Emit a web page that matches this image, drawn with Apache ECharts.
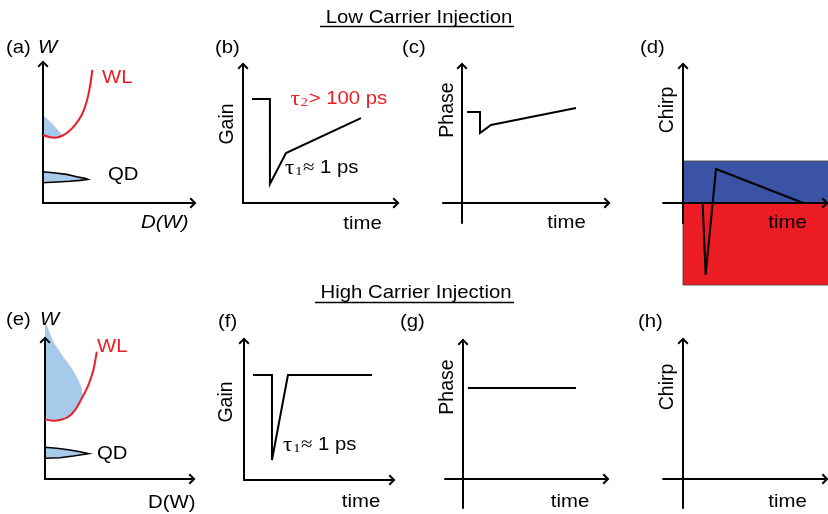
<!DOCTYPE html>
<html>
<head>
<meta charset="utf-8">
<script src="https://cdn.jsdelivr.net/npm/echarts@6/dist/echarts.min.js"></script>
<style>
  html, body { margin: 0; padding: 0; background: #ffffff; }
  #chart { width: 828px; height: 514px; }
</style>
</head>
<body>
<div id="chart"></div>
<script>
// ---- Curves, in each panel's own axis units ([x, y] pairs) ----

// (a) low injection: wetting-layer density of states and occupied states
const wlLow = [[0, 4.89], [0.47, 4.73], [0.8, 4.7], [1.25, 4.82], [1.69, 5.13], [2.13, 5.61],
               [2.58, 6.33], [2.91, 7.29], [3.13, 8.37], [3.29, 9.57]];
const wlFillLow = [[0, 6.33], [0.6, 5.72], [1.25, 4.95], [1.25, 4.82], [0.8, 4.7], [0.47, 4.73], [0, 4.89]];
const qdLow = [[0, 2.25], [0.69, 2.18], [1.58, 2.06], [2.25, 1.89], [2.8, 1.77], [2.98, 1.7],
               [2.47, 1.63], [1.8, 1.56], [0.91, 1.51], [0, 1.46]];

// (e) high injection
const wlHigh = [[0, 4.29], [0.56, 4.19], [1.02, 4.24], [1.59, 4.48], [2.04, 4.96], [2.5, 5.8],
                [2.95, 6.76], [3.29, 7.84], [3.52, 9.16]];
const wlFillHigh = [[0, 11.1], [0.12, 11.08], [0.56, 9.88], [1.24, 8.8], [1.82, 7.96], [2.27, 7.12],
                    [2.5, 6.52], [2.56, 6.04], [2.5, 5.8], [2.04, 4.96], [1.59, 4.48], [1.02, 4.24],
                    [0.56, 4.19], [0, 4.29]];
const qdHigh = [[0, 2.28], [0.8, 2.21], [1.7, 2.09], [2.38, 1.96], [2.97, 1.82],
                [1.93, 1.65], [1.02, 1.53], [0, 1.49]];

// (b), (f) gain vs time
const gainLow = [[0.59, 7.59], [1.76, 7.59], [1.76, 1.39], [2.81, 3.65], [7.71, 6.2]];
const gainHigh = [[0.61, 7.55], [1.89, 7.55], [1.89, 1.44], [2.97, 7.55], [8.65, 7.55]];

// (c), (g) phase vs time
const phaseLow = [[0.33, 6.5], [1.2, 6.5], [1.2, 5.0], [1.93, 5.57], [7.6, 6.79]];
const phaseHigh = [[0.33, 6.5], [7.53, 6.5]];

// (d) chirp vs time, with the positive (blue) and negative (red) chirp bands
const chirpLow = [[1.31, 0], [1.51, -5.14], [2.2, 2.43], [8.02, 0]];
const chirpPosBand = [[0, 0], [9.7, 0], [9.7, 3.0], [0, 3.0]];
const chirpNegBand = [[0, 0], [9.7, 0], [9.7, -5.86], [0, -5.86]];

// ---- Panel layout: origin in pixels, pixels per unit, axis extents ----
const layout = [
  { ox: 43,  oy: 203, sx: 15,   sy: 13.9, x: [0, 10],        y: [0, 10] },        // a
  { ox: 243, oy: 203, sx: 15.3, sy: 13.7, x: [0, 10],        y: [0, 10] },        // b
  { ox: 462, oy: 203, sx: 15,   sy: 14,   x: [-1.27, 9.67],  y: [-1.43, 9.79] },  // c
  { ox: 683, oy: 203, sx: 15,   sy: 14,   x: [-1.33, 9.47],  y: [-1.43, 9.79] },  // d
  { ox: 45,  oy: 479, sx: 14.7, sy: 13.9, x: [0, 10],        y: [0, 10] },        // e
  { ox: 244, oy: 480, sx: 14.8, sy: 13.9, x: [0, 10],        y: [0, 10] },        // f
  { ox: 463, oy: 479, sx: 15,   sy: 14,   x: [-1.2, 9.53],   y: [-2.07, 9.79] },  // g
  { ox: 683, oy: 479, sx: 15,   sy: 14,   x: [-1.33, 9.47],  y: [-2.07, 9.86] }   // h
];

const RED = '#ec1c24';
const BLUE = '#3a53a4';
const LIGHT = '#a7c9ea';
const SANS = '"Liberation Sans", Arial, Helvetica, sans-serif';
const SERIF = '"Liberation Serif", "Times New Roman", serif';
const CHEVRON = 'path://M5.5,0L11,5.5L9.6,7L5.5,2.8L1.4,7L0,5.5Z';
const FS = 18.5;      // label font size
const STRETCH = 1.1;  // horizontal widening of the label face

const grids = [], xAxes = [], yAxes = [];
layout.forEach((p, i) => {
  grids.push({
    left: p.ox + p.x[0] * p.sx,
    top: p.oy - p.y[1] * p.sy,
    width: (p.x[1] - p.x[0]) * p.sx,
    height: (p.y[1] - p.y[0]) * p.sy,
    containLabel: false,
    outerBoundsMode: 'none'
  });
  const axisBase = {
    gridIndex: i,
    type: 'value',
    z: 10,
    axisLine: {
      show: true, onZero: true,
      symbol: ['none', CHEVRON], symbolSize: [11, 7],
      lineStyle: { color: '#000', width: 2 }
    },
    axisTick: { show: false },
    axisLabel: { show: false },
    splitLine: { show: false }
  };
  xAxes.push(Object.assign({}, axisBase, { min: p.x[0], max: p.x[1] }));
  yAxes.push(Object.assign({}, axisBase, { min: p.y[0], max: p.y[1] }));
});

function curve(idx, data, color, smooth, miter) {
  return {
    type: 'line', xAxisIndex: idx, yAxisIndex: idx, data: data,
    symbol: 'none', smooth: smooth || false, clip: false, z: 12, silent: true,
    lineStyle: { color: color, width: 2, join: 'miter', miterLimit: miter || 6 }
  };
}

function region(idx, pts, fill, stroke, lw, z) {
  return {
    type: 'custom', xAxisIndex: idx, yAxisIndex: idx, clip: false, z: z, silent: true,
    data: [pts[0]],
    renderItem: function (params, api) {
      return {
        type: 'polygon',
        shape: { points: pts.map(function (d) { return api.coord(d); }) },
        style: { fill: fill, stroke: stroke || null, lineWidth: lw || 0 }
      };
    }
  };
}

const series = [
  // (a)
  region(0, wlFillLow, LIGHT, null, 0, 3),
  curve(0, wlLow, RED, 0.35),
  region(0, qdLow, LIGHT, '#000', 1.6, 4),
  // (b)
  curve(1, gainLow, '#000'),
  // (c)
  curve(2, phaseLow, '#000'),
  // (d)
  region(3, chirpPosBand, BLUE, 'rgba(60,60,60,0.8)', 1, 1),
  region(3, chirpNegBand, RED, 'rgba(60,60,60,0.8)', 1, 1),
  curve(3, chirpLow, '#000', false, 2),
  // (e)
  region(4, wlFillHigh, LIGHT, null, 0, 3),
  curve(4, wlHigh, RED, 0.35),
  region(4, qdHigh, LIGHT, '#000', 1.6, 4),
  // (f)
  curve(5, gainHigh, '#000'),
  // (g)
  curve(6, phaseHigh, '#000')
];

// ---- Text ----
function txt(text, x, y, o) {
  o = o || {};
  const size = o.size || FS;
  const font = (o.italic ? 'italic ' : '') + size + 'px ' + (o.family || SANS);
  return {
    type: 'text', x: x, y: y, z: 100, silent: true,
    rotation: o.rot || 0,
    scaleX: o.rot ? 1 : (o.sx || STRETCH),
    scaleY: o.rot ? (o.sy || 1.05) : 1,
    style: {
      text: text, fill: o.color || '#000', font: font,
      align: o.align || 'center', verticalAlign: 'middle',
      textAlign: o.align || 'center', textVerticalAlign: 'middle'
    }
  };
}
function part(text, x, y, font, color) {
  return {
    type: 'text', x: x, y: y, silent: true,
    style: { text: text, fill: color, font: font, align: 'left', verticalAlign: 'middle',
             textAlign: 'left', textVerticalAlign: 'middle' }
  };
}
function tau(sub, relation, rest, x, y, color) {
  const kids = [
    part('\u03C4', 0, 0, '21px ' + SERIF, color),
    part(sub, 9.3, 3.5, '13px ' + SERIF, color)
  ];
  if (relation === '\u2248') {
    kids.push(part('\u2248', 16.4, 0, '19px ' + SERIF, color));
    kids.push(part(rest, 31.8, 0, FS + 'px ' + SANS, color));
  } else {
    kids.push(part(relation + ' ' + rest, 16.5, 0, FS + 'px ' + SANS, color));
  }
  return { type: 'group', x: x, y: y, scaleX: STRETCH, z: 100, children: kids };
}
function underline(x1, x2, y) {
  return { type: 'line', z: 100, silent: true, shape: { x1: x1, y1: y, x2: x2, y2: y },
           style: { stroke: '#000', lineWidth: 1.5 } };
}

const R = Math.PI / 2;
const graphic = [
  txt('Low Carrier Injection', 419, 17.5),
  underline(320, 514, 26.5),
  txt('High Carrier Injection', 416, 293),
  underline(315, 514, 302.5),

  // (a)
  txt('(a)', 6, 48, { align: 'left' }),
  txt('W', 38, 48, { align: 'left', italic: true }),
  txt('WL', 102, 78, { align: 'left', color: RED }),
  txt('QD', 108, 175, { align: 'left' }),
  txt('D(W)', 141, 223, { align: 'left', italic: true }),
  // (b)
  txt('(b)', 215, 48, { align: 'left' }),
  txt('Gain', 227, 124, { rot: R, size: 19.5 }),
  tau('2', '>', '100 ps', 290.5, 99, RED),
  tau('1', '\u2248', '1 ps', 285, 168, '#000'),
  txt('time', 362.5, 224),
  // (c)
  txt('(c)', 402, 48, { align: 'left' }),
  txt('Phase', 447, 110, { rot: R, size: 19.5 }),
  txt('time', 566.5, 223),
  // (d)
  txt('(d)', 640, 48, { align: 'left' }),
  txt('Chirp', 667, 110, { rot: R, size: 19.5 }),
  txt('time', 787.5, 223),
  // (e)
  txt('(e)', 6, 320, { align: 'left' }),
  txt('W', 40, 320, { align: 'left', italic: true }),
  txt('WL', 97, 347, { align: 'left', color: RED }),
  txt('QD', 97, 454, { align: 'left' }),
  txt('D(W)', 148, 503, { align: 'left' }),
  // (f)
  txt('(f)', 218, 322, { align: 'left' }),
  txt('Gain', 226, 402, { rot: R, size: 19.5 }),
  tau('1', '\u2248', '1 ps', 283, 445, '#000'),
  txt('time', 361, 502),
  // (g)
  txt('(g)', 400, 322, { align: 'left' }),
  txt('Phase', 447, 387, { rot: R, size: 19.5 }),
  txt('time', 570, 502),
  // (h)
  txt('(h)', 638, 322, { align: 'left' }),
  txt('Chirp', 667, 387, { rot: R, size: 19.5 }),
  txt('time', 787.5, 502)
];

const chart = echarts.init(document.getElementById('chart'), null, { renderer: 'canvas' });
chart.setOption({
  animation: false,
  backgroundColor: '#ffffff',
  grid: grids,
  xAxis: xAxes,
  yAxis: yAxes,
  series: series,
  graphic: graphic
});
</script>
</body>
</html>
